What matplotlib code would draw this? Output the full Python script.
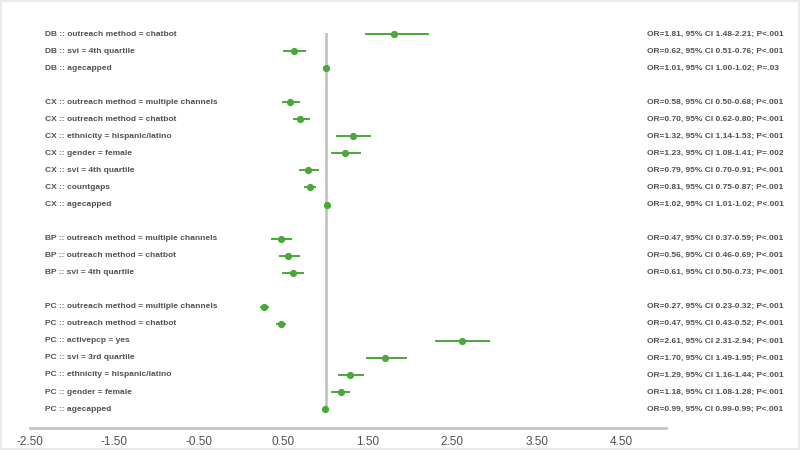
import matplotlib.pyplot as plt
import matplotlib.transforms as mtransforms
from matplotlib.patches import Rectangle

# rows top to bottom, None marks the gap between groups
labels = ['DB :: outreach method = chatbot', 'DB :: svi = 4th quartile', 'DB :: agecapped', None,
          'CX :: outreach method = multiple channels', 'CX :: outreach method = chatbot',
          'CX :: ethnicity = hispanic/latino', 'CX :: gender = female', 'CX :: svi = 4th quartile',
          'CX :: countgaps', 'CX :: agecapped', None,
          'BP :: outreach method = multiple channels', 'BP :: outreach method = chatbot',
          'BP :: svi = 4th quartile', None,
          'PC :: outreach method = multiple channels', 'PC :: outreach method = chatbot',
          'PC :: activepcp = yes', 'PC :: svi = 3rd quartile', 'PC :: ethnicity = hispanic/latino',
          'PC :: gender = female', 'PC :: agecapped']
odds = [1.81, 0.62, 1.01, None, 0.58, 0.70, 1.32, 1.23, 0.79, 0.81, 1.02, None,
        0.47, 0.56, 0.61, None, 0.27, 0.47, 2.61, 1.70, 1.29, 1.18, 0.99]
ci_lo = [1.48, 0.51, 1.00, None, 0.50, 0.62, 1.14, 1.08, 0.70, 0.75, 1.01, None,
         0.37, 0.46, 0.50, None, 0.23, 0.43, 2.31, 1.49, 1.16, 1.08, 0.99]
ci_hi = [2.21, 0.76, 1.02, None, 0.68, 0.80, 1.53, 1.41, 0.91, 0.87, 1.02, None,
         0.59, 0.69, 0.73, None, 0.32, 0.52, 2.94, 1.95, 1.44, 1.28, 0.99]
pvals = ['P<.001', 'P<.001', 'P=.03', None, 'P<.001', 'P<.001', 'P<.001', 'P=.002', 'P<.001',
         'P<.001', 'P<.001', None, 'P<.001', 'P<.001', 'P<.001', None,
         'P<.001', 'P<.001', 'P<.001', 'P<.001', 'P<.001', 'P<.001', 'P<.001']
xticks = [-2.5, -1.5, -0.5, 0.5, 1.5, 2.5, 3.5, 4.5]

green = '#4aa83a'
txt = '#505050'
plt.rcParams['font.family'] = ['Liberation Sans', 'DejaVu Sans']

fig = plt.figure(figsize=(8, 4.5), dpi=100)
ax = fig.add_axes([0.0375, 0.0489, 0.795, 0.9133])
fig.patches.append(Rectangle((0, 0), 1, 1, transform=fig.transFigure, fill=False,
                             edgecolor='#ebebeb', linewidth=3))

ys = [-i for i in range(len(labels))]
rows = [y for y, l in zip(ys, labels) if l is not None]
ax.plot([1, 1], [rows[0], rows[-1]], color='#c4c4c4', lw=2, zorder=1)

trans = mtransforms.blended_transform_factory(fig.transFigure, ax.transData)
for y, lab, o, lo, hi, p in zip(ys, labels, odds, ci_lo, ci_hi, pvals):
    if lab is None:
        continue
    ax.plot([lo, hi], [y, y], color=green, lw=1.4, zorder=2)
    ax.plot(o, y, 'o', color=green, ms=4.2, zorder=3)
    ax.text(0.056, y, lab, transform=trans, fontsize=6.0, fontweight='bold', color=txt,
            va='center', ha='left')
    ax.text(0.809, y, 'OR={:.2f}, 95% CI {:.2f}-{:.2f}; {}'.format(o, lo, hi, p), transform=trans,
            fontsize=6.0, fontweight='bold', color=txt, va='center', ha='left')

ax.set_xlim(-2.5, 5.03)
ax.set_ylim(-23.11, 1.0)
ax.set_xticks(xticks)
ax.set_xticklabels(['{:.2f}'.format(t) for t in xticks], fontsize=8.5, color=txt)
ax.tick_params(axis='x', length=0, pad=6)
ax.set_yticks([])
for s in ['top', 'left', 'right']:
    ax.spines[s].set_visible(False)
ax.spines['bottom'].set_color('#c4c4c4')
ax.spines['bottom'].set_linewidth(2)

plt.savefig('out.png', dpi=100)
